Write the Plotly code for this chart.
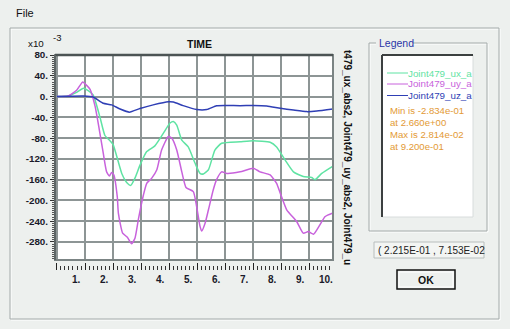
import plotly.graph_objects as go

W, H = 510, 329

# ---------------- data (values in units of 1e-3) ----------------
t_ux = [0, 0.4, 0.7, 0.94, 1.1, 1.29, 1.53, 1.71, 1.89, 2.0, 2.31, 2.51, 2.63, 2.78, 2.96,
        3.2, 3.49, 3.79, 4.03, 4.15, 4.27, 4.45, 4.68, 4.92, 5.1, 5.22, 5.4, 5.63, 5.87,
        6.53, 7.0, 7.6, 7.83, 8.13, 8.43, 8.78, 9.08, 9.2, 9.44, 9.84]
ux = [0, 1, 8, 16, 12, 3, -39, -75, -85, -92, -148, -167, -171, -157, -132,
      -106, -95, -71, -51, -48, -55, -84, -97, -128, -148, -149, -141, -103, -90,
      -87, -85, -88, -97, -122, -145, -154, -156, -160, -148, -134]

t_uy = [0, 0.4, 0.7, 0.92, 1.05, 1.18, 1.36, 1.51, 1.65, 1.77, 1.87, 1.95, 2.03, 2.15,
        2.19, 2.34, 2.51, 2.66, 2.78, 2.91, 3.08, 3.2, 3.38, 3.56, 3.73, 3.97, 4.09,
        4.27, 4.45, 4.6, 4.86, 4.98, 5.1, 5.16, 5.28, 5.4, 5.57, 5.69, 5.87, 6.05,
        6.53, 7.0, 7.24, 7.6, 7.83, 7.96, 8.19, 8.55, 8.78, 8.96, 9.15, 9.33, 9.56, 9.84]
uy = [0, 1, 12, 28.1, 22, 14, -19, -64, -109, -145, -153, -146, -151, -193,
      -225, -263, -271, -283.4, -273, -234, -190, -167, -157, -141, -103, -77, -80,
      -103, -145, -175, -183, -212, -250, -259, -244, -218, -180, -160, -145, -148,
      -145, -138, -145, -151, -167, -186, -218, -241, -263, -260, -265, -251, -231, -224]

t_uz = [0, 0.94, 1.29, 1.65, 1.95, 2.25, 2.58, 2.96, 3.43, 3.97, 4.15, 4.5, 4.98, 5.34,
        5.69, 6.05, 6.53, 7.0, 7.48, 7.96, 8.43, 8.9, 9.26, 9.84]
uz = [0, 1, -1, -13, -16, -24, -30, -23, -16, -10, -10.5, -17.5, -25, -25,
      -17.5, -17, -17.5, -17, -18, -22.5, -26, -29, -28, -24]

y_ticks = [80, 40, 0, -40, -80, -120, -160, -200, -240, -280]
y_ticktext = ["80.", "40.", "0.", "-40.", "-80.", "-120.", "-160.", "-200.", "-240.", "-280."]
x_labels = [1, 2, 3, 4, 5, 6, 7, 8, 9, 10]

series_names = ["Joint479_ux_a", "Joint479_uy_a", "Joint479_uz_a"]
series_colors = ["#5fe3a3", "#c862dc", "#2f3fb5"]
info_lines = ["Min is -2.834e-01", "at 2.660e+00", "Max is 2.814e-02", "at 9.200e-01"]

# ---------------- layout helpers ----------------
X_RANGE = [-0.07, 9.84]
Y_RANGE = [-314.7, 80]
PL, PR, PT, PB = 55, 333, 55, 260   # plot area pixels


def px(x):
    return x / W


def py(y):
    return 1 - y / H


def xdata_to_paper(v):
    return px(PL + (v - X_RANGE[0]) / (X_RANGE[1] - X_RANGE[0]) * (PR - PL))


FONT = "Liberation Sans, Arial, sans-serif"
BG = "#edf0ee"

fig = go.Figure()
for tt, vv, col in ((t_ux, ux, series_colors[0]), (t_uy, uy, series_colors[1]), (t_uz, uz, series_colors[2])):
    fig.add_trace(go.Scatter(x=tt, y=vv, mode="lines", hoverinfo="skip",
                             line=dict(color=col, width=1.5, shape="spline", smoothing=0.5)))

shapes = []
annotations = []

# outer group box
shapes.append(dict(type="rect", xref="paper", yref="paper", x0=px(11), x1=px(500), y0=py(320), y1=py(29),
                   line=dict(color="#ffffff", width=1)))
shapes.append(dict(type="rect", xref="paper", yref="paper", x0=px(10), x1=px(499), y0=py(319), y1=py(28),
                   line=dict(color="#a3abaa", width=1)))

# plot border
shapes.append(dict(type="rect", xref="x domain", yref="y domain", x0=0, x1=1, y0=0, y1=1,
                   line=dict(color="#7b8484", width=2)))
shapes.append(dict(type="line", xref="x domain", yref="y domain", x0=0, x1=1, y0=1, y1=1,
                   line=dict(color="#4c5454", width=2.5)))
shapes.append(dict(type="line", xref="x domain", yref="y domain", x0=0, x1=0, y0=0, y1=1,
                   line=dict(color="#5c6464", width=2)))

# legend group box
shapes.append(dict(type="rect", xref="paper", yref="paper", x0=px(370), x1=px(488), y0=py(232), y1=py(44),
                   line=dict(color="#ffffff", width=1)))
shapes.append(dict(type="rect", xref="paper", yref="paper", x0=px(369), x1=px(487), y0=py(231), y1=py(43),
                   line=dict(color="#a3abaa", width=1)))
shapes.append(dict(type="rect", xref="paper", yref="paper", x0=px(376), x1=px(413), y0=py(47), y1=py(38),
                   fillcolor=BG, line=dict(width=0)))
# legend white box (sunken)
shapes.append(dict(type="rect", xref="paper", yref="paper", x0=px(382), x1=px(473), y0=py(217), y1=py(55),
                   fillcolor="#ffffff", line=dict(color="#d8dcdc", width=1)))
shapes.append(dict(type="line", xref="paper", yref="paper", x0=px(382), x1=px(473), y0=py(55), y1=py(55),
                   line=dict(color="#3c4040", width=2)))
shapes.append(dict(type="line", xref="paper", yref="paper", x0=px(382), x1=px(382), y0=py(55), y1=py(217),
                   line=dict(color="#3c4040", width=2)))

# coordinate readout box
shapes.append(dict(type="rect", xref="paper", yref="paper", x0=px(374), x1=px(484), y0=py(258), y1=py(242),
                   fillcolor="#f3f5f3", line=dict(color="#b8bebd", width=1)))
# OK button
shapes.append(dict(type="rect", xref="paper", yref="paper", x0=px(397), x1=px(455), y0=py(289), y1=py(270),
                   fillcolor=BG, line=dict(color="#111111", width=1.5)))
shapes.append(dict(type="rect", xref="paper", yref="paper", x0=px(399), x1=px(453), y0=py(287), y1=py(272),
                   line=dict(color="#ffffff", width=1)))

# legend sample lines and names
leg_y = [73, 84, 95.5]
for name, col, yy in zip(series_names, series_colors, leg_y):
    shapes.append(dict(type="line", xref="paper", yref="paper", x0=px(387), x1=px(408), y0=py(yy), y1=py(yy),
                       line=dict(color=col, width=1)))
    annotations.append(dict(text=name, xref="paper", yref="paper", x=px(406), y=py(yy), xanchor="left",
                            yanchor="middle", showarrow=False, font=dict(family=FONT, size=9.8, color=col)))

for i, line in enumerate(info_lines):
    annotations.append(dict(text=line, xref="paper", yref="paper", x=px(388), y=py(110 + i * 12.2),
                            xanchor="left", yanchor="middle", showarrow=False,
                            font=dict(family=FONT, size=9.6, color="#e39a35")))

annotations += [
    dict(text="File", xref="paper", yref="paper", x=px(14), y=py(13), xanchor="left", yanchor="middle",
         showarrow=False, font=dict(family=FONT, size=11, color="#111111")),
    dict(text="Legend", xref="paper", yref="paper", x=px(377), y=py(43), xanchor="left", yanchor="middle",
         showarrow=False, font=dict(family=FONT, size=10.5, color="#2a35a8")),
    dict(text="TIME", xref="paper", yref="paper", x=px(199), y=py(44), xanchor="center", yanchor="middle",
         showarrow=False, font=dict(family=FONT, size=10.5, color="#111111", weight="bold")),
    dict(text="x10", xref="paper", yref="paper", x=px(26), y=py(43), xanchor="left", yanchor="middle",
         showarrow=False, font=dict(family=FONT, size=9.8, color="#111111")),
    dict(text="-3", xref="paper", yref="paper", x=px(51), y=py(37.5), xanchor="left", yanchor="middle",
         showarrow=False, font=dict(family=FONT, size=9.5, color="#111111")),
    dict(text="t479_ux_abs2, Joint479_uy_abs2, Joint479_u", xref="paper", yref="paper", x=px(348),
         y=py(157), xanchor="center", yanchor="middle", textangle=90, showarrow=False,
         font=dict(family=FONT, size=10, color="#111111", weight="bold")),
    dict(text="( 2.215E-01 , 7.153E-02", xref="paper", yref="paper", x=px(376), y=py(250),
         xanchor="left", yanchor="middle", showarrow=False,
         font=dict(family=FONT, size=10, color="#222222")),
    dict(text="OK", xref="paper", yref="paper", x=px(426), y=py(279.5), xanchor="center", yanchor="middle",
         showarrow=False, font=dict(family=FONT, size=10.5, color="#111111", weight="bold")),
]

# x tick labels (placed left of each major tick)
for v in x_labels:
    annotations.append(dict(text=f"{v}.", xref="paper", yref="paper", x=xdata_to_paper(v) - px(2.5),
                            y=py(279), xanchor="right", yanchor="middle", showarrow=False,
                            font=dict(family=FONT, size=10, color="#1a1a2a", weight="bold")))

fig.update_layout(
    width=W, height=H,
    margin=dict(l=0, r=0, t=0, b=0, autoexpand=False),
    paper_bgcolor=BG, plot_bgcolor="#ffffff",
    showlegend=False,
    shapes=shapes, annotations=annotations,
    xaxis=dict(domain=[px(PL), px(PR)], range=X_RANGE, anchor="free", position=py(270), automargin=False,
               showgrid=True, gridcolor="#8d9595", gridwidth=1.6, zeroline=False, showline=False,
               tick0=0, dtick=1, ticks="inside", ticklen=7, tickwidth=1, tickcolor="#222222",
               showticklabels=False,
               minor=dict(dtick=1 / 7, ticks="inside", ticklen=4, tickwidth=1, tickcolor="#333333",
                          showgrid=False)),
    yaxis=dict(domain=[py(PB), py(PT)], range=Y_RANGE, automargin=False,
               showgrid=True, gridcolor="#8d9595", gridwidth=1.6,
               zeroline=False, showline=False, tickvals=y_ticks, ticktext=y_ticktext,
               ticks="outside", ticklen=4, tickwidth=1, tickcolor="#333333",
               tickfont=dict(family=FONT, size=9.8, color="#1a1a2a", weight="bold"),
               minor=dict(dtick=4, tick0=0, ticks="outside", ticklen=2, tickwidth=1, tickcolor="#555555",
                          showgrid=False)),
)

fig.write_html("out.html", config={"displayModeBar": False},
               post_script="document.body.style.margin='0';document.body.style.background='#edf0ee';")
